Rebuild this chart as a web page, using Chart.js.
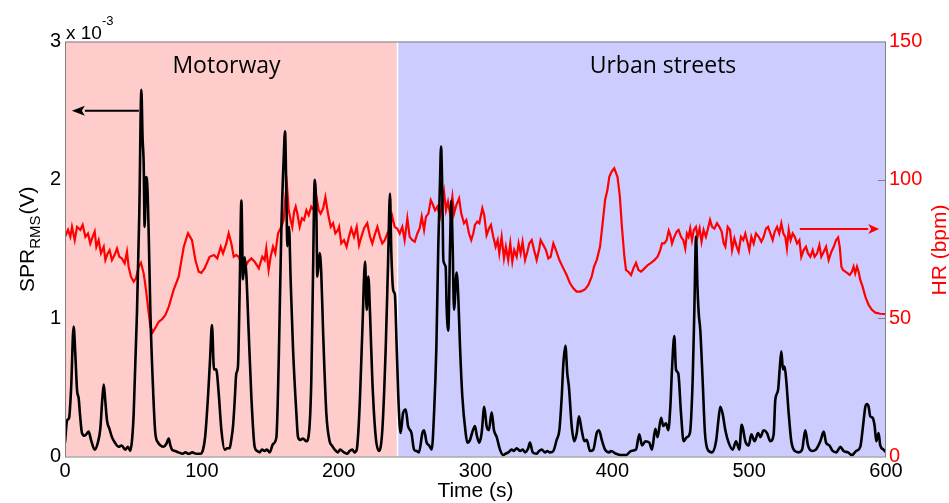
<!DOCTYPE html>
<html>
<head>
<meta charset="utf-8">
<title>SPR and HR while driving</title>
<script src="https://cdn.jsdelivr.net/npm/chart.js@4"></script>
<style>
  body { margin: 0; background: #fff; }
  #wrap { width: 949px; height: 503px; }
</style>
</head>
<body>
<div id="wrap"><canvas id="chart" width="949" height="503"></canvas></div>
<script>
// driving segments (s)
const segmentNames = ['Motorway', 'Urban streets'];
const segmentBounds = [0, 243, 600];
const segmentLabelAt = [118, 437];

const timeTicks = [0, 100, 200, 300, 400, 500, 600];
const sprTicks = [0, 1, 2, 3];      // x 10^-3 V
const hrTicks = [0, 50, 100, 150];  // bpm

// skin potential response, RMS (x 10^-3 V)
const sprTime = [0,1.5,3,4.5,6.3,7.5,8.8,10,11,12.4,14.5,17.3,19,21.7,24,25.8,27.3,28.3,29.3,30.7,32.5,34.3,36.5,39.2,41.5,44,46,47.7,49,50.2,52.6,54.3,55.8,56.7,57.5,58.2,59.2,60.2,61.2,62.4,64.1,66,68,69.8,72,74,75.8,77,78.2,80.5,83,86,88,90.4,93,96,98.9,100.9,102.5,104.5,106,107.4,108.9,110.5,112.3,114.3,116.7,118.5,120.3,121.5,122.8,124,125.2,126.4,127.7,128.9,130.1,131.3,132.5,134.2,136.2,138.6,140.5,142.3,144,145.9,147.5,149.6,152,154.5,155.5,156.4,158.1,159.8,160.8,161.8,162.5,163.7,164.9,166.6,169.1,170.3,172,173.9,176.4,178.3,180,181.2,182.5,183.7,184.4,186.1,187.3,188.6,191,193.4,195,197.1,199.5,201,203.9,206.3,208,210,211.5,213.2,214.5,215.6,217.3,219.3,220.5,221.7,222.9,224.6,227.1,229.5,231.9,234.4,236.1,237.5,238.5,239.9,241.1,242.4,244.1,245.3,247,249,250.7,253.2,255.1,257,258.7,261.2,262.4,264.3,266.1,268,269.7,271.4,272.8,274.1,274.8,275.8,276.5,278.2,278.9,280.1,281.4,282.3,283.3,284.3,286.2,287.4,288.7,290.4,292.8,294,296,297.5,299.6,301,302.8,304.5,306.4,308.1,309.8,311.8,313.5,315.5,317.9,320.3,322,324,326.4,328,330.1,332.6,334.5,336.2,338.5,339.8,341.8,344.7,346.5,348.4,350.8,352.5,354.4,356.9,359.3,361.3,363,364.2,365.7,367.1,368.3,370.3,372.2,374,375.6,377.6,379.6,381.3,383.7,386.1,388.6,390.3,392.3,394.7,397.8,399,402.7,406.3,410,413.7,417.3,419.7,421.7,424.1,427,429,431.4,433.1,435.6,437.3,439.2,440.9,442.4,443.6,445.3,446.5,448.2,450.2,452.1,454.5,456.7,458.7,459.9,461.2,462.2,463.1,464.3,466,467.7,469.7,472.8,475.8,477.5,478.9,480.6,482.6,485,488,490.4,492.8,494.5,495.5,497.2,499.7,501.6,504,506.5,508.2,510.6,513,515.5,517.9,519.1,521.1,522.3,523.5,524.7,525.9,527.1,528.9,530.8,533.3,536.2,538.7,541,543,545.9,548.8,552,554.5,556.2,558.6,561,563.7,566.6,569,572.2,575.1,578.2,581.2,583.2,584.9,586.1,587.3,588.5,590.2,591.7,592.9,594.6,595.8,598.2,600];
const sprValues = [0.10,0.26,0.28,0.5,0.94,0.75,0.48,0.42,0.3,0.17,0.15,0.18,0.12,0.05,0.1,0.2,0.42,0.52,0.42,0.26,0.2,0.14,0.1,0.07,0.08,0.05,0.07,0.04,0.12,0.31,1.04,1.76,2.65,2.3,2.12,1.66,2.02,1.95,1.6,1.04,0.55,0.17,0.1,0.08,0.07,0.09,0.13,0.08,0.05,0.04,0.03,0.02,0.03,0.02,0.03,0.02,0.02,0.05,0.15,0.43,0.7,0.95,0.63,0.63,0.46,0.19,0.05,0.06,0.06,0.12,0.22,0.4,0.6,0.65,1.23,1.85,1.28,1.44,1.32,0.91,0.43,0.07,0.04,0.03,0.05,0.04,0.05,0.03,0.09,0.14,0.4,0.79,1.64,2.15,2.35,1.88,1.52,1.66,1.28,0.79,0.31,0.14,0.12,0.13,0.11,0.17,0.55,1.28,2.0,1.76,1.3,1.47,1.32,0.91,0.31,0.11,0.08,0.05,0.03,0.05,0.03,0.02,0.04,0.05,0.03,0.05,0.2,0.43,0.91,1.41,1.06,1.3,1.04,0.55,0.14,0.04,0.19,0.79,1.4,1.9,1.47,1.2,1.17,0.79,0.31,0.17,0.31,0.34,0.22,0.17,0.05,0.04,0.03,0.17,0.19,0.1,0.08,0.05,0.31,0.79,1.52,2.0,2.24,1.88,1.42,1.37,1.08,0.91,1.52,1.85,1.52,1.06,1.33,1.16,0.79,0.43,0.17,0.1,0.12,0.17,0.22,0.15,0.1,0.17,0.36,0.22,0.19,0.32,0.19,0.14,0.05,0.01,0.02,0.03,0.05,0.04,0.06,0.04,0.05,0.03,0.06,0.1,0.03,0.02,0.04,0.05,0.03,0.04,0.03,0.04,0.12,0.19,0.43,0.67,0.8,0.6,0.5,0.22,0.11,0.17,0.29,0.19,0.11,0.12,0.04,0.05,0.17,0.19,0.12,0.05,0.03,0.04,0.02,0.01,0.01,0.04,0.05,0.16,0.08,0.11,0.1,0.05,0.2,0.14,0.28,0.22,0.24,0.19,0.36,0.63,0.87,0.63,0.6,0.31,0.11,0.14,0.17,0.55,1.04,1.59,1.23,1.04,0.91,0.55,0.17,0.05,0.03,0.11,0.26,0.36,0.31,0.19,0.1,0.05,0.11,0.05,0.23,0.2,0.11,0.08,0.16,0.11,0.17,0.14,0.19,0.17,0.11,0.16,0.41,0.48,0.63,0.76,0.63,0.65,0.55,0.31,0.11,0.04,0.03,0.05,0.19,0.08,0.04,0.05,0.11,0.18,0.1,0.08,0.04,0.03,0.07,0.04,0.03,0.01,0.04,0.07,0.22,0.36,0.38,0.36,0.29,0.28,0.22,0.11,0.17,0.08,0.05,0.03];

// heart rate (bpm)
const hrTime = [0,2.2,3.9,5.1,7.1,8.8,11.2,12.9,14.9,16.8,18.5,20.2,21.7,22.9,24.6,26.3,28.3,29.5,31.2,32.6,34.3,36.2,38,39.7,41.6,43.6,45.3,46.5,48.2,50.2,51.9,53.8,55.5,57.5,59.2,61.2,62.4,64.1,66.5,68.5,70.9,73.3,75.8,79.4,83.1,85.1,86.8,89.9,92.8,95.3,97.7,99.6,102,105.7,108.9,111.3,113.8,115.5,117.9,119.6,121.6,123.3,125.2,126.9,128.9,131.3,133.7,136.2,138.6,141.6,144.2,145.9,147.1,148.8,150.3,152,153.7,155.7,158.1,159.8,161.3,162.2,163.5,164.9,166.1,167.4,168.6,169.8,171.5,173.2,174.7,176.4,178.1,180,182,183.7,185.4,186.8,188.6,190.3,192.2,194.2,195.9,197.6,199.5,200.3,201.9,203.9,205.8,207.5,209.2,211.2,213.2,214.9,216.6,218.5,220.9,222.9,224.6,226.3,228.3,230.2,231.9,233.7,235.6,237.5,239.2,240.9,242.8,244.6,246.5,248.2,250.2,251.9,253.9,255.6,257.5,259.2,260.7,262.4,263.8,265.6,267.3,269,270.4,272.1,274.1,275.8,277,278.4,279.9,281.4,283.1,284.3,286,288,289.6,291.6,293.3,295.2,296.9,298.4,299.6,301.3,302.8,305,306.4,308.1,309.8,311.3,313,314.7,316.2,317.4,319.1,320.8,322.2,323.9,325.4,326.9,328.3,330.1,331.5,333,334.4,336.2,337.9,339.3,341.1,342.8,344.7,346.4,347.6,349.6,351.5,353.2,354.9,356.9,358.8,361.3,364.2,366.6,369.1,371.5,373.9,376.8,380,382.5,384.9,386.6,388.6,391,392.9,394.7,396.4,397.8,399.5,401.4,403.8,405.5,407,408.8,410,411.7,413.7,415.4,417.3,419.1,421,423.5,425.9,428.3,430.7,433.1,435,436.3,438,439.7,441.2,442.4,443.6,445.3,447,448.4,450.2,451.9,453.3,454.5,455.7,456.9,458.2,459.6,461.1,462.3,463.8,465.2,466.7,468.4,469.9,471.4,472.9,474.6,476.5,478.2,479.9,481.4,482.6,484.3,486,487.5,489.2,490.9,492.3,494,495.7,497.2,498.4,500.1,501.6,503.3,505,507,508.9,510.6,512.3,513.8,515.5,517.2,518.7,520.4,522,523.5,525,526.4,527.6,528.9,530.3,531.8,533.3,535,536.7,538.1,539.8,541.5,543,544.7,546.4,547.8,549.6,551.3,552.7,554.5,556.2,558.1,560.1,561.8,563.5,565,566.2,567.4,568.6,570.3,572,573.5,575.1,576.3,577.5,578.8,580,581.2,582.9,584.9,587.3,589.7,592.2,595.8,600];
const hrValues = [79.4,81.9,79.4,83,78.2,83,81.9,83.7,79.4,80.6,77,79.4,81.3,75.8,78.2,73.4,75.8,71,73.4,74.6,71,72.8,75.2,72.2,71.6,69.8,74,68.6,65,63.2,64.4,68.6,70,66.2,60.2,51.7,46.9,44.9,46.9,48.7,49.6,51.1,54.1,60.2,65,71,75.8,80.7,78.2,71,66.8,66.4,68,72.2,72.8,71.6,75.8,73.4,77,80.7,77,72.2,72.8,72.2,69.8,68,70.4,71.6,70.4,68,72.2,71,75.2,67.4,72.2,75.8,73.4,80.7,83,85.5,95.1,98.1,89,85.5,83,88.4,90.3,87.8,83,86.1,85.5,89,87.2,90.3,89,94.1,89,87.8,89.6,93.7,87.8,83,84.3,80.7,81.9,83,77,78.2,75.8,79.4,82.4,79.4,83,76.4,79.4,82.4,84.3,79.4,77,80,83,79.4,77,78.2,80.6,82.4,86.7,83,82.4,80.6,83,78.2,86.1,79.4,78.2,77.6,80.6,82.4,86.7,81.9,86.7,87.8,92.7,90.9,89,90.3,86.7,92.1,95.7,89,92.1,87.8,93.9,87.8,90.9,93.3,87.8,84.3,85.5,80.7,78.2,80.7,83.7,84.9,84.3,89.7,87.2,80,82.4,83.7,79.4,75.8,78.2,73.4,79.4,71.6,75.8,71,77,70.4,74.6,72.2,77,73.4,77.6,71,74,77,78.2,74.6,71,74.6,78.2,76.4,74.6,71.6,72.2,77,74.6,71,68,65.6,62.6,60.8,59.6,59.6,60.4,62,65,68.6,71,75.8,84.3,92.7,96.3,101.1,103,104.2,101,93.9,83,72.2,67.4,66.8,65.6,68,70,67.4,66.8,68,69.2,70,71,72.2,74.6,77,77,78.2,81.6,80,77,79.4,81.3,81.9,79.4,78.2,75.2,80.6,79.4,82.4,78.2,81.9,83,79.4,82.4,77.6,81.9,79.4,82.4,85.5,83,82.4,84.3,83,81.3,77,75.8,83,81.9,74.6,78.8,75.8,74,79.4,78.2,80.6,78.2,74.6,79.4,77,80.6,79.4,77.6,79.4,82.4,83,80.6,78.2,81.3,83,80.6,84.3,80.6,79.4,75.2,81.9,78.2,80.6,79.4,77,78.2,72.2,74.6,75.8,73.4,72.2,74.6,72.2,73.4,76.4,72.2,74,75.8,71,74,75.8,78.2,79.2,75.8,68.6,67.4,66.8,66.2,65.6,66.8,68.6,66.2,68.6,66.8,63.8,61.4,57.8,54.8,53,52,51.6,51.5];

const FONT = '"Liberation Sans", Arial, sans-serif';
const RED = '#ff0000';

function toPoints(xs, ys) {
  return xs.map((x, i) => ({ x: x, y: ys[i] }));
}

function setTicks(list) {
  return scale => { scale.ticks = list.map(v => ({ value: v })); };
}

function arrow(ctx, x1, y1, x2, y2, color, head) {
  const dir = Math.sign(x2 - x1);
  ctx.save();
  ctx.strokeStyle = color;
  ctx.fillStyle = color;
  ctx.lineWidth = 2;
  ctx.beginPath();
  ctx.moveTo(x1, y1);
  ctx.lineTo(x2 - dir * head, y2);
  ctx.stroke();
  ctx.beginPath();
  ctx.moveTo(x2, y2);
  ctx.lineTo(x2 - dir * head, y2 - 5);
  ctx.lineTo(x2 - dir * (head - 3), y2);
  ctx.lineTo(x2 - dir * head, y2 + 5);
  ctx.closePath();
  ctx.fill();
  ctx.restore();
}

// shaded driving segments behind the traces
const segmentsPlugin = {
  id: 'segments',
  beforeDatasetsDraw(chart) {
    const { ctx, chartArea: a, scales: { x } } = chart;
    const colors = ['#ffcccc', '#ccccff'];
    ctx.save();
    for (let i = 0; i < segmentNames.length; i++) {
      const x0 = x.getPixelForValue(segmentBounds[i]);
      const x1 = x.getPixelForValue(segmentBounds[i + 1]);
      ctx.fillStyle = colors[i];
      ctx.fillRect(x0, a.top, x1 - x0, a.bottom - a.top);
    }
    ctx.strokeStyle = '#ffffff';
    ctx.lineWidth = 1.5;
    const xb = x.getPixelForValue(segmentBounds[1]);
    ctx.beginPath();
    ctx.moveTo(xb, a.top);
    ctx.lineTo(xb, a.bottom);
    ctx.stroke();
    ctx.restore();
  },
  afterDatasetsDraw(chart) {
    const { ctx, chartArea: a, scales: { x } } = chart;
    ctx.save();
    ctx.fillStyle = '#000';
    ctx.font = '23px "Open Sans", sans-serif';
    ctx.textAlign = 'center';
    ctx.textBaseline = 'alphabetic';
    segmentNames.forEach((name, i) => {
      ctx.fillText(name, x.getPixelForValue(segmentLabelAt[i]), a.top + 31);
    });
    ctx.restore();
  }
};

// frame, axis titles, multiplier and the axis arrows
const decorPlugin = {
  id: 'decor',
  afterDraw(chart) {
    const { ctx, chartArea: a, scales: { x, y, y2 } } = chart;
    ctx.save();

    ctx.strokeStyle = '#808080';
    ctx.lineWidth = 1;
    ctx.strokeRect(a.left + 0.5, a.top + 0.5, a.right - a.left - 1, a.bottom - a.top);
    ctx.beginPath();
    [50, 100].forEach(v => {
      const py = Math.round(y2.getPixelForValue(v)) + 0.5;
      ctx.moveTo(a.right - 8, py);
      ctx.lineTo(a.right, py);
    });
    ctx.stroke();

    arrow(ctx, x.getPixelForValue(54), y.getPixelForValue(2.5),
      x.getPixelForValue(5), y.getPixelForValue(2.5), '#000', 13);
    arrow(ctx, x.getPixelForValue(537), y2.getPixelForValue(82.2),
      x.getPixelForValue(595), y2.getPixelForValue(82.2), RED, 11);

    // x 10^-3
    ctx.fillStyle = '#000';
    ctx.textAlign = 'left';
    ctx.textBaseline = 'alphabetic';
    ctx.font = '19px ' + FONT;
    ctx.fillText('x 10', a.left + 1, a.top - 3);
    const w = ctx.measureText('x 10').width;
    ctx.font = '13px ' + FONT;
    ctx.fillText('-3', a.left + 1 + w, a.top - 17);

    // Time (s)
    ctx.font = '21px ' + FONT;
    ctx.textAlign = 'center';
    ctx.fillText('Time (s)', (a.left + a.right) / 2, 497);

    // SPR_RMS (V), rotated
    ctx.save();
    ctx.translate(34, 292);
    ctx.rotate(-Math.PI / 2);
    ctx.textAlign = 'left';
    ctx.font = '21px ' + FONT;
    ctx.fillText('SPR', 0, 0);
    let off = ctx.measureText('SPR').width;
    ctx.font = '15px ' + FONT;
    ctx.fillText('RMS', off, 6);
    off += ctx.measureText('RMS').width + 1;
    ctx.font = '21px ' + FONT;
    ctx.fillText('(V)', off, 0);
    ctx.restore();

    // HR (bpm), rotated
    ctx.save();
    ctx.translate(946, 250);
    ctx.rotate(-Math.PI / 2);
    ctx.textAlign = 'center';
    ctx.fillStyle = RED;
    ctx.font = '21px ' + FONT;
    ctx.fillText('HR (bpm)', 0, 0);
    ctx.restore();

    ctx.restore();
  }
};

new Chart(document.getElementById('chart'), {
  type: 'line',
  data: {
    datasets: [
      {
        label: 'SPR RMS',
        data: toPoints(sprTime, sprValues),
        yAxisID: 'y',
        borderColor: '#000000',
        borderWidth: 2.6,
        pointRadius: 0,
        cubicInterpolationMode: 'monotone',
        order: 0
      },
      {
        label: 'HR',
        data: toPoints(hrTime, hrValues),
        yAxisID: 'y2',
        borderColor: RED,
        borderWidth: 2.2,
        pointRadius: 0,
        tension: 0,
        order: 1
      }
    ]
  },
  options: {
    responsive: false,
    animation: false,
    events: [],
    layout: { padding: { top: 41.5, left: 0, right: 0, bottom: 0 } },
    plugins: {
      legend: { display: false },
      tooltip: { enabled: false }
    },
    scales: {
      x: {
        type: 'linear',
        min: 0,
        max: 600,
        afterBuildTicks: setTicks(timeTicks),
        afterFit: s => { s.height = 46.5; },
        grid: { display: false, drawTicks: false },
        border: { display: false },
        ticks: { color: '#000', padding: 3, maxRotation: 0, font: { family: FONT, size: 20 } }
      },
      y: {
        position: 'left',
        min: 0,
        max: 3,
        afterBuildTicks: setTicks(sprTicks),
        afterFit: s => { s.width = 65; },
        grid: { display: false, drawTicks: false },
        border: { display: false },
        ticks: { color: '#000', padding: 4, font: { family: FONT, size: 20 } }
      },
      y2: {
        position: 'right',
        min: 0,
        max: 150,
        afterBuildTicks: setTicks(hrTicks),
        afterFit: s => { s.width = 63; },
        grid: { display: false, drawTicks: false },
        border: { display: false },
        ticks: { color: RED, padding: 3, font: { family: FONT, size: 20 } }
      }
    }
  },
  plugins: [segmentsPlugin, decorPlugin]
});
</script>
</body>
</html>
